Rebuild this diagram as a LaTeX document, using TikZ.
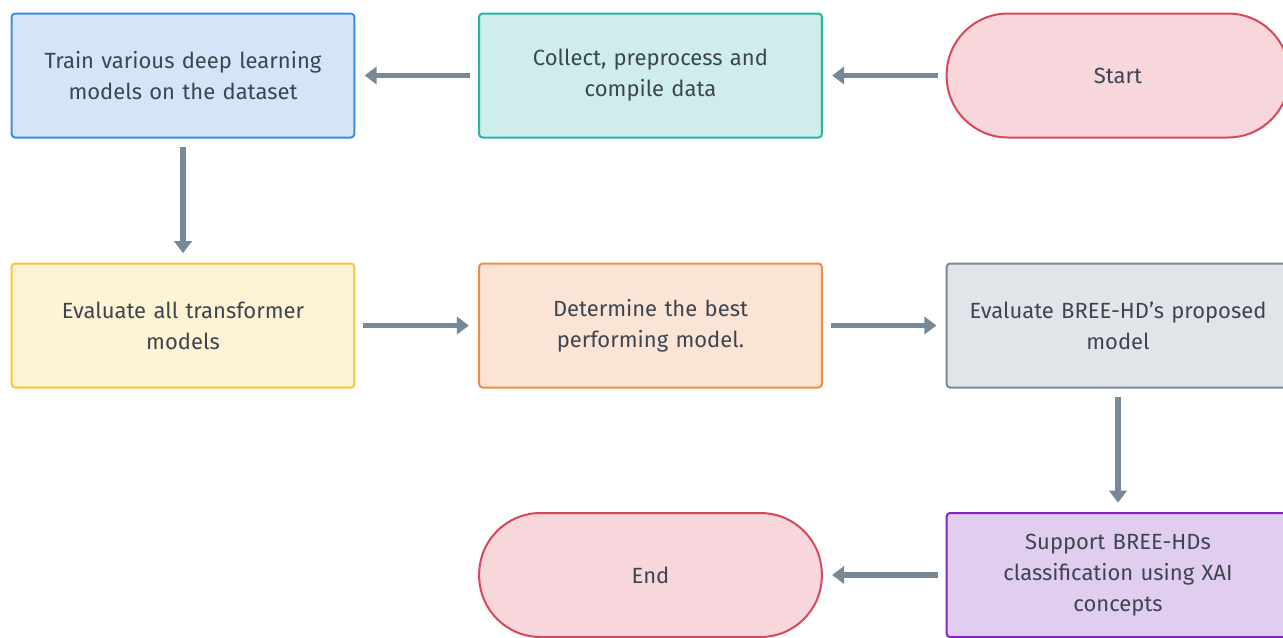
\documentclass[tikz,border=0pt]{standalone}
\usepackage{fontspec}
\setmainfont{Fira Sans}
\usetikzlibrary{arrows.meta}
\definecolor{txt}{HTML}{3D4650}
\definecolor{arr}{HTML}{778899}
\definecolor{bluefill}{HTML}{D3E5F6}
\definecolor{blueline}{HTML}{3A8FDB}
\definecolor{tealfill}{HTML}{CFEDEB}
\definecolor{tealline}{HTML}{26B5A2}
\definecolor{redfill}{HTML}{F7D6DC}
\definecolor{redline}{HTML}{D9475C}
\definecolor{yelfill}{HTML}{FEF3D4}
\definecolor{yelline}{HTML}{F8C537}
\definecolor{orafill}{HTML}{FBE3D6}
\definecolor{oraline}{HTML}{EE8D47}
\definecolor{grayfill}{HTML}{E1E5E9}
\definecolor{grayline}{HTML}{7A8896}
\definecolor{purfill}{HTML}{E1CDF0}
\definecolor{purline}{HTML}{8A1FD0}
\tikzset{
  box/.style={rectangle, rounded corners=2.5pt, line width=1.5pt, minimum width=257pt,
    minimum height=93pt, text width=245pt, align=center, text=txt,
    font=\fontsize{16.5}{23.2}\selectfont},
  term/.style={box, rounded corners=46pt},
  flow/.style={arr, line width=3.8pt, -{Triangle[length=9pt,width=13pt]},
    shorten >=7pt, shorten <=6pt}
}
\begin{document}
\begin{tikzpicture}[x=0.75pt,y=-0.75pt]
\clip (0,0) rectangle (1283,637);
\useasboundingbox (0,0) rectangle (1283,637);
\node[term, fill=redfill, draw=redline] (start) at (1118,75.5) {Start};
\node[box, fill=tealfill, draw=tealline] (collect) at (650.5,75.5) {Collect, preprocess and\\compile data};
\node[box, fill=bluefill, draw=blueline] (train) at (183,75.5) {Train various deep learning\\models on the dataset};
\node[box, fill=yelfill, draw=yelline] (evalall) at (183,325.5) {Evaluate all transformer\\models};
\node[box, fill=orafill, draw=oraline] (best) at (650.5,325.5) {Determine the best\\performing model.};
\node[box, fill=grayfill, draw=grayline] (evalbree) at (1118,325.5) {Evaluate BREE-HD’s proposed\\model};
\node[box, fill=purfill, draw=purline] (xai) at (1118,575) {Support BREE-HDs\\classification using XAI\\concepts};
\node[term, fill=redfill, draw=redline] (end) at (650.5,575) {End};
\draw[flow] (start) -- (collect);
\draw[flow] (collect) -- (train);
\draw[flow] (train) -- (evalall);
\draw[flow] (evalall) -- (best);
\draw[flow] (best) -- (evalbree);
\draw[flow] (evalbree) -- (xai);
\draw[flow] (xai) -- (end);
\end{tikzpicture}
\end{document}
